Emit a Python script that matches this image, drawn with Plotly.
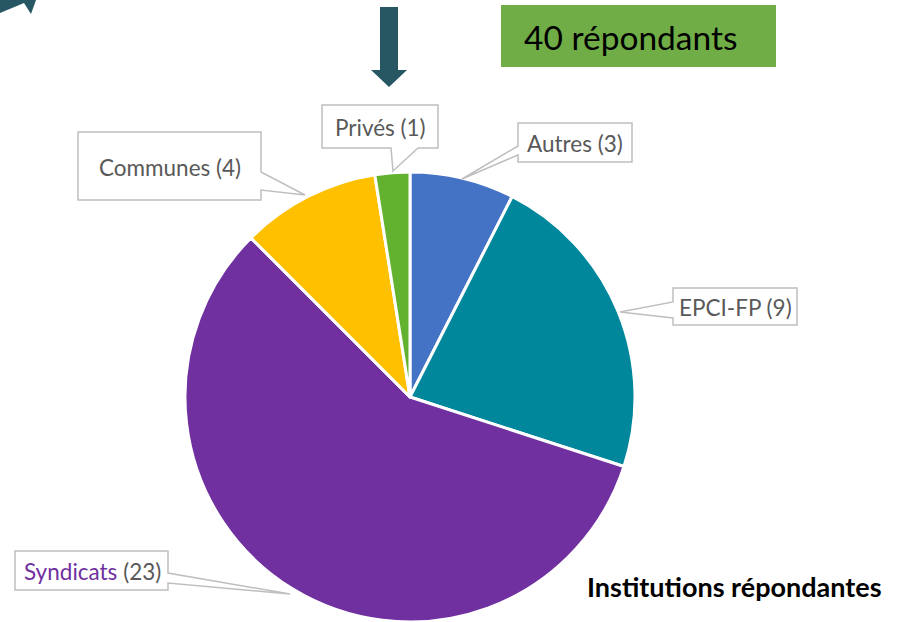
import plotly.graph_objects as go

W, H = 903, 622

categories = ["Autres", "EPCI-FP", "Syndicats", "Communes", "Privés"]
counts = [3, 9, 23, 4, 1]
colors = ["#4472C4", "#01879C", "#7030A0", "#FFC000", "#63B22F"]
total_label = "40 répondants"
title_text = "Institutions répondantes"


def px(x):
    return x / W


def py(y):
    return 1 - y / H


def path(points):
    s = "M " + " L ".join(f"{px(x):.5f},{py(y):.5f}" for x, y in points) + " Z"
    return s


fig = go.Figure()
cx, cy, r = 410, 397, 225
fig.add_trace(go.Pie(
    labels=categories, values=counts, sort=False, direction="clockwise",
    rotation=0, textinfo="none", hoverinfo="label+value",
    marker=dict(colors=colors, line=dict(color="white", width=3)),
    domain=dict(x=[px(cx - r), px(cx + r)], y=[py(cy + r), py(cy - r)]),
    showlegend=False,
))

shapes = []
# callout boxes (box + pointer)
callouts = {
    "Privés": [(322, 105), (438, 105), (438, 148), (418, 148), (393, 171), (391, 148), (322, 148)],
    "Communes": [(78, 132), (261, 132), (261, 172), (305, 195), (261, 190), (261, 200), (78, 200)],
    "Autres": [(518, 123), (632, 123), (632, 162), (518, 162), (518, 155), (462, 179), (518, 146)],
    "EPCI-FP": [(673, 288), (797, 288), (797, 325), (673, 325), (673, 318), (620, 312), (673, 302)],
    "Syndicats": [(15, 551), (168, 551), (168, 573), (290, 594), (168, 583), (168, 590), (15, 590)],
}
for k, pts in callouts.items():
    shapes.append(dict(type="path", xref="paper", yref="paper", path=path(pts),
                       fillcolor="white", line=dict(color="#BFBFBF", width=1.5)))

# green total box
shapes.append(dict(type="rect", xref="paper", yref="paper",
                   x0=px(501), x1=px(776), y0=py(67), y1=py(5),
                   fillcolor="#70AD47", line=dict(width=0)))
# down arrow
shapes.append(dict(type="path", xref="paper", yref="paper",
                   path=path([(380, 7), (398, 7), (398, 70), (407, 70), (389, 87), (371, 70), (380, 70)]),
                   fillcolor="#265763", line=dict(width=0)))
# top-left arrow fragment
shapes.append(dict(type="path", xref="paper", yref="paper",
                   path=path([(0, 0), (0, 13), (24, 3), (31, 14), (36, 0)]),
                   fillcolor="#265763", line=dict(width=0)))

font = "Lato, 'Open Sans', sans-serif"
grey = "#595959"
annotations = [
    dict(x=px(380), y=py(127), text="Privés (1)"),
    dict(x=px(170), y=py(167), text="Communes (4)"),
    dict(x=px(575), y=py(143), text="Autres (3)"),
    dict(x=px(735), y=py(307), text="EPCI-FP (9)"),
    dict(x=px(92), y=py(571), text="<span style='color:#7030A0'>Syndicats</span> (23)"),
]
for a in annotations:
    a.update(xref="paper", yref="paper", showarrow=False, xanchor="center", yanchor="middle",
             font=dict(family=font, size=22.5, color=grey))

annotations.append(dict(x=px(522), y=py(37), xref="paper", yref="paper", showarrow=False,
                        xanchor="left", yanchor="middle", text=total_label,
                        font=dict(family=font, size=33.5, color="#000000")))
annotations.append(dict(x=px(585), y=py(586), xref="paper", yref="paper", showarrow=False,
                        xanchor="left", yanchor="middle", text=f"<b>{title_text}</b>",
                        font=dict(family=font, size=27, color="#000000")))

fig.update_layout(
    width=W, height=H, margin=dict(l=0, r=0, t=0, b=0),
    paper_bgcolor="white", plot_bgcolor="white",
    shapes=shapes, annotations=annotations,
)

fig.write_html("out.html", config={"displayModeBar": False},
               post_script="document.body.style.margin='0';")
